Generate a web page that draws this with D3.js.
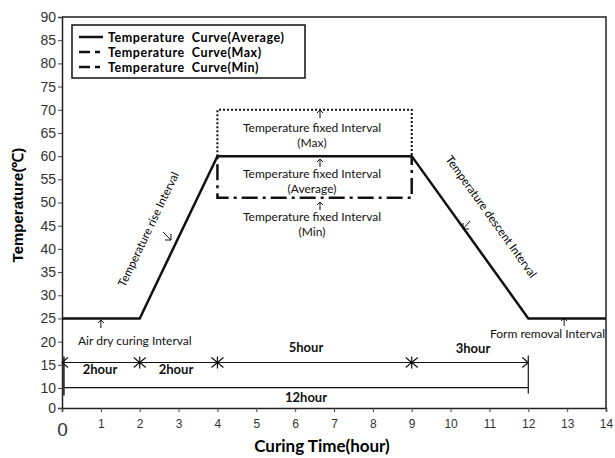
<!DOCTYPE html>
<html><head><meta charset="utf-8">
<script src="https://cdn.jsdelivr.net/npm/d3@7"></script>
<style>body{margin:0;background:#fff;} svg{display:block;}</style>
</head><body>
<svg id="c" width="615" height="458"></svg>
<script>
// ---- data ----
const timeH = [0, 2, 4, 9, 12, 14];
const avgTemp = [25, 25, 60, 60, 25, 25];
const maxTime = [4, 4, 9, 9];
const maxTemp = [60, 70, 70, 60];
const minTime = [4, 4, 9, 9];
const minTemp = [60, 51, 51, 60];
const xTicks = [0,1,2,3,4,5,6,7,8,9,10,11,12,13,14];
const yTicks = [0,10,15,20,25,30,35,40,45,50,55,60,65,70,75,80,85,90];
const segBounds = [0, 2, 4, 9, 12];
const segLabels = ["2hour", "2hour", "5hour", "3hour"];
const totalLabel = "12hour";
const legendLabels = ["Temperature  Curve(Average)", "Temperature  Curve(Max)", "Temperature  Curve(Min)"];

const svg = d3.select("#c");
const x = d3.scaleLinear().domain([0, 14]).range([62, 606]);
const y = d3.scaleLinear().domain([0, 10, 90]).range([408, 388, 17]);
const tickFont = "'Liberation Sans', Arial, sans-serif";
const annFont = "Lato, 'Open Sans', sans-serif";

// frame top/right
svg.append("path").attr("d", `M${x(0)},${y(90)}H${x(14)}V${y(0)}`).attr("fill","none").attr("stroke","#222").attr("stroke-width",1.5);

// axes
const yAxis = svg.append("g").attr("transform", `translate(${x(0)},0)`)
  .call(d3.axisLeft(y).tickValues(yTicks).tickSize(4).tickPadding(2));
const xAxis = svg.append("g").attr("transform", `translate(0,${y(0)})`)
  .call(d3.axisBottom(x).tickValues(xTicks).tickSize(4).tickPadding(7));
[yAxis, xAxis].forEach(a => {
  a.select(".domain").attr("stroke", "#222").attr("stroke-width", 1.5);
  a.selectAll(".tick line").attr("stroke", "#444");
  a.selectAll("text").attr("font-family", tickFont).attr("fill", "#333").attr("font-size", 14);
});
yAxis.selectAll("text").attr("font-size", 14);
xAxis.selectAll("text").attr("font-size", 12);
xAxis.selectAll(".tick").filter(d => d === 0).select("text").attr("font-size", 19).attr("dy", "0.9em");

// axis titles
svg.append("text").attr("x", x(7) - 12).attr("y", 452).attr("text-anchor","middle")
  .attr("font-family", annFont).attr("font-weight","bold").attr("font-size",17).text("Curing Time(hour)");
svg.append("text").attr("transform", `translate(23,205) rotate(-90)`).attr("text-anchor","middle")
  .attr("font-family", tickFont).attr("font-weight","bold").attr("font-size",15).text("Temperature(℃)");

// max (dotted) box
const line = d3.line().x(d => x(d[0])).y(d => y(d[1]));
svg.append("path").attr("d", line(maxTime.map((t,i)=>[t,maxTemp[i]])))
  .attr("fill","none").attr("stroke","#111").attr("stroke-width",2).attr("stroke-dasharray","2,2");
// min (dash-dot) box
svg.append("path").attr("d", line(minTime.map((t,i)=>[t,minTemp[i]])))
  .attr("fill","none").attr("stroke","#111").attr("stroke-width",2.5).attr("stroke-dasharray","3,5,16,5");
// average curve
svg.append("path").attr("d", line(timeH.map((t,i)=>[t,avgTemp[i]])))
  .attr("fill","none").attr("stroke","#111").attr("stroke-width",2.5);

// legend
const lg = svg.append("g");
lg.append("rect").attr("x",72).attr("y",25).attr("width",233).attr("height",53)
  .attr("fill","#fff").attr("stroke","#111").attr("stroke-width",1.5);
const dashes = [null, "11,5,5,20", "11,5,5,20"];
legendLabels.forEach((l,i) => {
  const yy = 37 + i*15;
  lg.append("line").attr("x1",79).attr("x2",103).attr("y1",yy).attr("y2",yy)
    .attr("stroke","#111").attr("stroke-width",2.5).attr("stroke-dasharray", dashes[i]);
  lg.append("text").attr("x",108).attr("y",yy+4.5).attr("font-family",annFont).attr("font-weight","bold")
    .attr("font-size",12.5).attr("letter-spacing",0.55).attr("xml:space","preserve").text(l);
});

// annotations
function ann(tx, ty, txt, opts={}) {
  return svg.append("text").attr("x",tx).attr("y",ty).attr("text-anchor", opts.anchor || "middle")
    .attr("font-family",annFont).attr("font-size",opts.size || 12).attr("fill","#111")
    .attr("font-weight", opts.weight || "normal").text(txt);
}
function upArrow(ax, ay) {
  svg.append("path").attr("d",`M${ax},${ay+8}V${ay}M${ax-3},${ay+3}L${ax},${ay}L${ax+3},${ay+3}`)
    .attr("fill","none").attr("stroke","#111").attr("stroke-width",1);
}
const cx = 312;
upArrow(320, 110); ann(cx, 132, "Temperature fixed Interval"); ann(cx, 146.5, "(Max)");
upArrow(320, 159); ann(cx, 178, "Temperature fixed Interval"); ann(cx, 192.5, "(Average)");
upArrow(320, 202); ann(cx, 221, "Temperature fixed Interval"); ann(cx, 235.5, "(Min)");

upArrow(x(1), 320); ann(78, 345, "Air dry curing Interval", {anchor:"start"});
upArrow(x(13)-3, 318); ann(x(14)-1, 338, "Form removal Interval", {anchor:"end"});

// rotated interval labels
const riseAng = Math.atan2(y(60)-y(25), x(4)-x(2)) * 180/Math.PI;
svg.append("text").attr("transform",`translate(152,231) rotate(${riseAng})`).attr("text-anchor","middle")
  .attr("font-family",annFont).attr("font-size",11.5).text("Temperature rise Interval");
svg.append("path").attr("d","M163,232L171,240M171,234L171,240L165,240").attr("fill","none").attr("stroke","#111").attr("stroke-width",1);
const descAng = Math.atan2(y(25)-y(60), x(12)-x(9)) * 180/Math.PI;
svg.append("text").attr("transform",`translate(488,219) rotate(${descAng})`).attr("text-anchor","middle")
  .attr("font-family",annFont).attr("font-size",11.5).text("Temperature descent Interval");
svg.append("path").attr("d","M470,221L463,229M463,223L463,229L469,229").attr("fill","none").attr("stroke","#111").attr("stroke-width",1);

// dimension lines
const dimY = y(15.5);
const totY = y(10.1);
svg.append("line").attr("x1",x(segBounds[0])).attr("x2",x(segBounds[segBounds.length-1]))
  .attr("y1",dimY).attr("y2",dimY).attr("stroke","#111").attr("stroke-width",1.2);
svg.append("line").attr("x1",x(0)).attr("x2",x(12)).attr("y1",totY).attr("y2",totY)
  .attr("stroke","#111").attr("stroke-width",1.2);
svg.append("line").attr("x1",x(0)+1.5).attr("x2",x(0)+1.5).attr("y1",dimY-6).attr("y2",totY+8)
  .attr("stroke","#333").attr("stroke-width",2.5);
svg.append("line").attr("x1",x(12)).attr("x2",x(12)).attr("y1",dimY-7).attr("y2",totY+6)
  .attr("stroke","#111").attr("stroke-width",1.2);
segBounds.forEach((b,i) => {
  const px = x(b);
  let d = "";
  if (i > 0) d += `M${px-6},${dimY-5}L${px},${dimY}L${px-6},${dimY+5}`;
  if (i < segBounds.length-1) d += `M${px+6},${dimY-5}L${px},${dimY}L${px+6},${dimY+5}`;
  if (i > 0 && i < segBounds.length-1) d += `M${px},${dimY-6}V${dimY+6}`;
  svg.append("path").attr("d",d).attr("fill","none").attr("stroke","#111").attr("stroke-width",1.2);
});
const segLabelPos = [[100,374],[176,374],[306,352],[473,353]];
segLabels.forEach((l,i) => ann(segLabelPos[i][0], segLabelPos[i][1], l, {weight:"bold", size:13}));
ann(306, 402, totalLabel, {weight:"bold", size:13});
</script>
</body></html>
